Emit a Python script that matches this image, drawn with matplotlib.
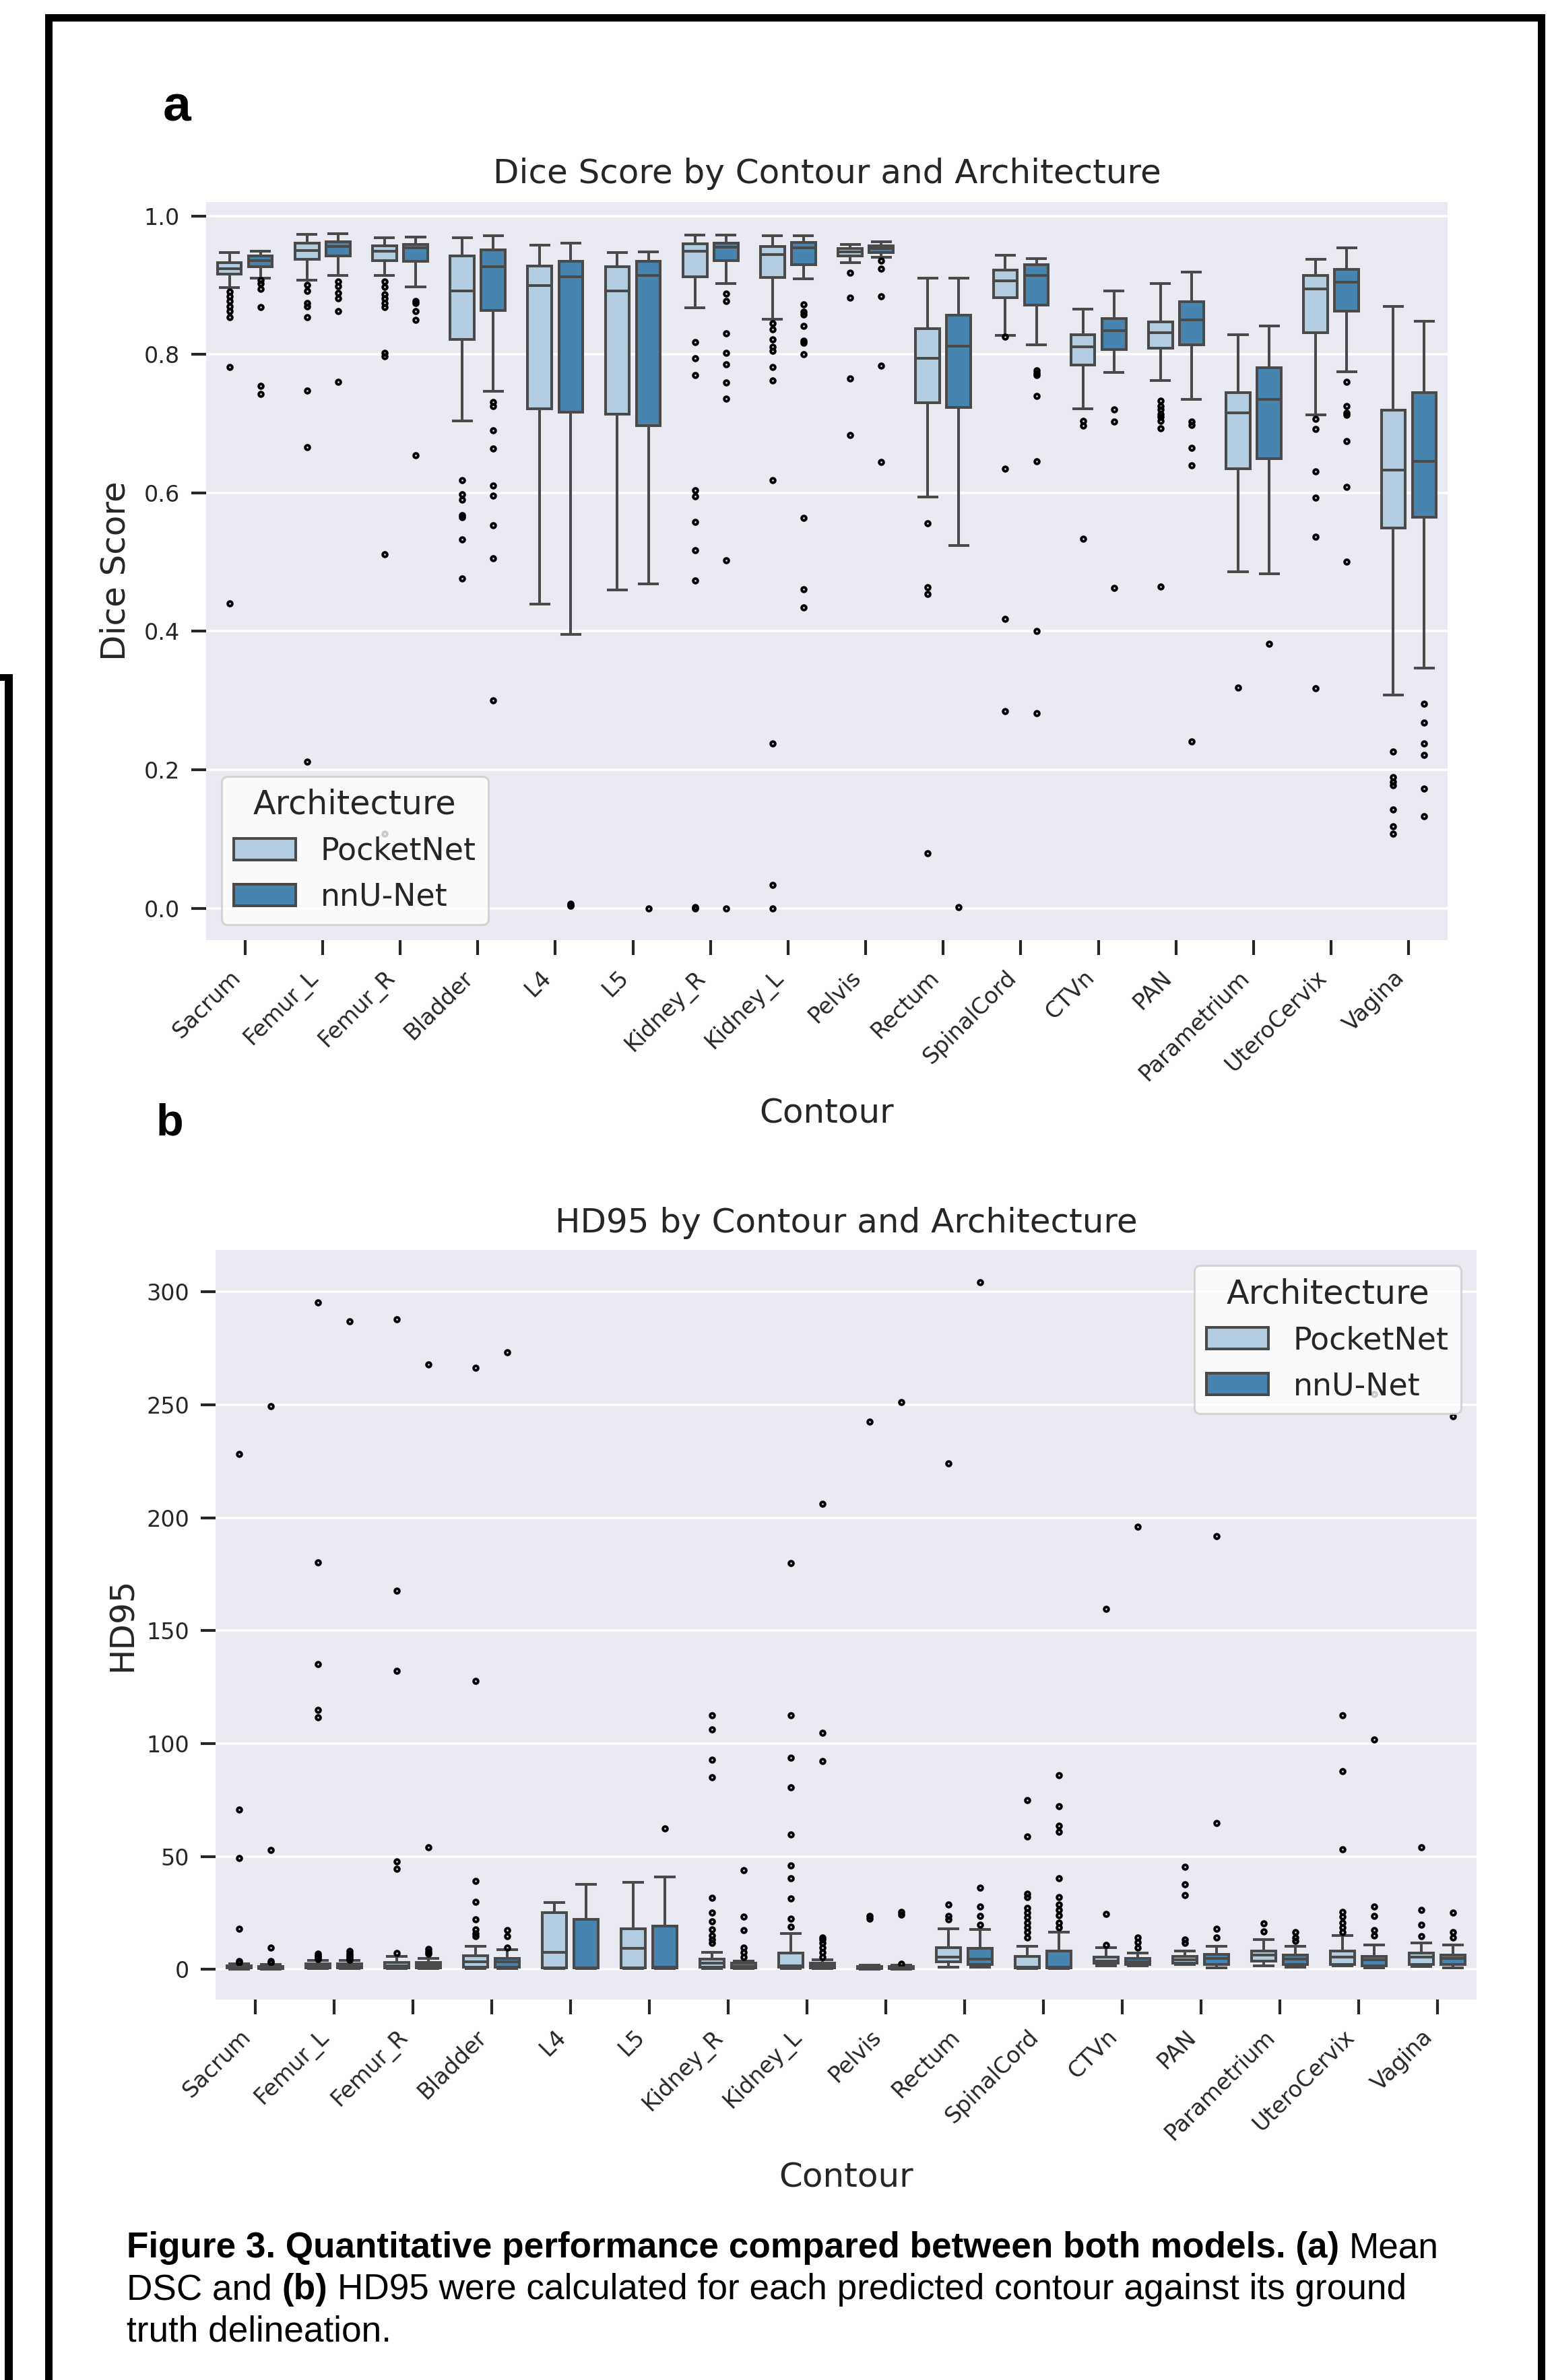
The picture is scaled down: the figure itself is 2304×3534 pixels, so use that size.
import numpy as np
import matplotlib
matplotlib.use("Agg")
import matplotlib.pyplot as plt
from matplotlib.patches import Patch, Rectangle

W, H = 2304, 3534

contours = ["Sacrum", "Femur_L", "Femur_R", "Bladder", "L4", "L5", "Kidney_R", "Kidney_L",
            "Pelvis", "Rectum", "SpinalCord", "CTVn", "PAN", "Parametrium", "UteroCervix", "Vagina"]
architectures = ["PocketNet", "nnU-Net"]

# ── Dice score, PocketNet ────────────────────────────────────────────────────
dice_pn_lo = [0.896, 0.907, 0.914, 0.704, 0.439, 0.460, 0.867, 0.851, 0.932, 0.594, 0.827, 0.721, 0.762, 0.486, 0.713, 0.308]
dice_pn_q1 = [0.916, 0.937, 0.935, 0.822, 0.721, 0.714, 0.912, 0.911, 0.942, 0.730, 0.882, 0.785, 0.809, 0.635, 0.831, 0.549]
dice_pn_med = [0.924, 0.950, 0.949, 0.892, 0.899, 0.892, 0.949, 0.944, 0.948, 0.794, 0.906, 0.811, 0.831, 0.716, 0.895, 0.633]
dice_pn_q3 = [0.932, 0.961, 0.957, 0.942, 0.928, 0.927, 0.960, 0.956, 0.953, 0.837, 0.922, 0.828, 0.847, 0.745, 0.914, 0.719]
dice_pn_hi = [0.947, 0.973, 0.968, 0.968, 0.958, 0.947, 0.972, 0.971, 0.959, 0.910, 0.943, 0.865, 0.902, 0.828, 0.937, 0.869]
dice_pn_fliers = [
    [0.891, 0.884, 0.877, 0.869, 0.862, 0.854, 0.782, 0.440],
    [0.900, 0.892, 0.874, 0.869, 0.854, 0.748, 0.666, 0.212],
    [0.905, 0.897, 0.887, 0.881, 0.874, 0.868, 0.802, 0.797, 0.511, 0.108],
    [0.618, 0.598, 0.590, 0.568, 0.565, 0.533, 0.476],
    [],
    [],
    [0.818, 0.794, 0.770, 0.604, 0.595, 0.558, 0.517, 0.473, 0.002, 0.0],
    [0.845, 0.836, 0.822, 0.811, 0.805, 0.782, 0.762, 0.618, 0.238, 0.034, 0.0],
    [0.918, 0.882, 0.765, 0.683],
    [0.556, 0.464, 0.454, 0.079],
    [0.825, 0.635, 0.418, 0.285],
    [0.704, 0.697, 0.534],
    [0.733, 0.725, 0.720, 0.714, 0.710, 0.704, 0.693, 0.465],
    [0.319],
    [0.707, 0.692, 0.631, 0.593, 0.537, 0.318],
    [0.226, 0.189, 0.183, 0.178, 0.143, 0.118, 0.108],
]

# ── Dice score, nnU-Net ──────────────────────────────────────────────────────
dice_nn_lo = [0.910, 0.914, 0.897, 0.747, 0.396, 0.469, 0.902, 0.909, 0.940, 0.524, 0.814, 0.774, 0.735, 0.483, 0.775, 0.347]
dice_nn_q1 = [0.927, 0.942, 0.934, 0.863, 0.717, 0.697, 0.935, 0.930, 0.947, 0.723, 0.871, 0.807, 0.814, 0.649, 0.862, 0.565]
dice_nn_med = [0.935, 0.956, 0.954, 0.927, 0.912, 0.914, 0.955, 0.954, 0.953, 0.812, 0.914, 0.834, 0.850, 0.735, 0.904, 0.646]
dice_nn_q3 = [0.942, 0.963, 0.959, 0.951, 0.934, 0.934, 0.961, 0.962, 0.957, 0.857, 0.930, 0.852, 0.876, 0.781, 0.923, 0.745]
dice_nn_hi = [0.949, 0.974, 0.969, 0.971, 0.961, 0.948, 0.972, 0.971, 0.963, 0.910, 0.938, 0.892, 0.919, 0.841, 0.954, 0.848]
dice_nn_fliers = [
    [0.907, 0.902, 0.895, 0.868, 0.754, 0.743],
    [0.905, 0.898, 0.889, 0.881, 0.862, 0.760],
    [0.877, 0.874, 0.862, 0.850, 0.654],
    [0.731, 0.725, 0.690, 0.664, 0.611, 0.596, 0.553, 0.505, 0.300],
    [0.007, 0.005, 0.004],
    [0.0],
    [0.888, 0.877, 0.830, 0.802, 0.786, 0.759, 0.736, 0.503, 0.0],
    [0.872, 0.861, 0.858, 0.841, 0.820, 0.817, 0.800, 0.564, 0.461, 0.434],
    [0.935, 0.924, 0.884, 0.784, 0.645],
    [0.002],
    [0.777, 0.773, 0.770, 0.740, 0.646, 0.400, 0.282],
    [0.720, 0.703, 0.463],
    [0.703, 0.698, 0.665, 0.640, 0.241],
    [0.382],
    [0.760, 0.725, 0.716, 0.713, 0.675, 0.609, 0.501],
    [0.295, 0.268, 0.238, 0.221, 0.173, 0.133],
]

# ── HD95, PocketNet ──────────────────────────────────────────────────────────
hd_pn_lo = [0.0, 0.3, 0.3, 0.5, 0.3, 0.3, 0.3, 0.3, 0.2, 1.1, 0.3, 1.5, 2.2, 1.5, 1.5, 1.2]
hd_pn_q1 = [0.7, 0.8, 0.8, 0.9, 0.7, 0.7, 1.1, 1.1, 0.5, 3.3, 0.7, 2.8, 2.8, 3.7, 2.2, 2.2]
hd_pn_med = [1.1, 1.5, 1.6, 3.3, 7.7, 9.4, 2.8, 1.6, 0.8, 5.5, 1.0, 3.7, 4.4, 6.3, 5.5, 5.5]
hd_pn_q3 = [1.5, 2.5, 3.0, 6.1, 25.1, 18.1, 4.6, 7.2, 1.2, 9.8, 5.9, 5.5, 5.9, 8.1, 8.1, 7.2]
hd_pn_hi = [2.6, 4.0, 5.9, 10.3, 29.7, 38.7, 7.7, 16.0, 1.8, 18.1, 10.3, 9.8, 8.1, 13.1, 14.9, 11.6]
hd_pn_fliers = [
    [3.2, 3.8, 18.1, 49.2, 70.8, 228.2],
    [4.6, 5.4, 6.0, 7.0, 111.7, 115.0, 135.3, 180.1, 295.1],
    [7.2, 44.6, 47.9, 132.3, 167.7, 287.9],
    [14.6, 16.0, 17.7, 22.1, 30.0, 39.1, 127.7, 266.3],
    [],
    [],
    [11.6, 13.3, 15.1, 17.7, 21.2, 25.1, 31.7, 85.0, 92.7, 106.3, 112.6],
    [19.0, 22.5, 31.3, 40.4, 45.9, 59.7, 80.7, 93.6, 112.6, 180.0],
    [22.5, 23.8, 242.6],
    [22.1, 23.8, 28.6, 223.9],
    [14.2, 16.4, 18.6, 20.8, 23.0, 25.1, 27.3, 32.1, 33.4, 58.8, 75.0],
    [10.7, 24.7, 159.6],
    [11.6, 13.1, 32.8, 37.6, 45.3],
    [16.8, 20.3],
    [16.4, 18.6, 20.8, 23.4, 25.6, 53.1, 87.7, 112.6],
    [14.6, 19.9, 26.2, 54.0],
]

# ── HD95, nnU-Net ────────────────────────────────────────────────────────────
hd_nn_lo = [0.0, 0.3, 0.3, 0.5, 0.3, 0.3, 0.3, 0.3, 0.2, 1.1, 0.3, 1.5, 0.7, 1.0, 0.8, 0.8]
hd_nn_q1 = [0.5, 0.8, 0.8, 0.9, 0.7, 0.7, 0.7, 0.7, 0.5, 2.2, 0.7, 2.2, 2.2, 2.2, 1.7, 2.2]
hd_nn_med = [0.9, 1.4, 1.8, 3.3, 0.8, 0.9, 1.3, 1.5, 0.8, 4.6, 1.0, 3.3, 5.0, 4.6, 4.4, 5.0]
hd_nn_q3 = [1.3, 2.6, 3.2, 4.8, 22.1, 19.2, 2.8, 2.8, 1.2, 9.4, 8.1, 5.0, 6.8, 6.3, 5.9, 6.3]
hd_nn_hi = [2.2, 4.0, 5.0, 8.8, 37.8, 41.1, 3.7, 4.4, 1.8, 17.7, 16.4, 7.2, 10.3, 10.3, 10.9, 10.7]
hd_nn_fliers = [
    [3.0, 3.6, 9.8, 52.9, 249.2],
    [4.4, 5.2, 6.0, 7.0, 8.1, 286.8],
    [7.0, 8.0, 9.0, 54.0, 267.8],
    [9.8, 14.6, 17.3, 273.3],
    [],
    [62.3],
    [5.5, 7.7, 9.8, 17.3, 23.4, 43.9],
    [5.5, 7.7, 9.8, 11.6, 13.3, 14.2, 92.3, 104.7, 206.0],
    [2.4, 24.3, 25.6, 251.0],
    [19.9, 23.8, 27.8, 36.1, 304.3],
    [18.6, 20.8, 24.0, 26.2, 28.6, 32.1, 40.4, 61.0, 63.6, 72.4, 86.1],
    [9.8, 12.0, 14.2, 196.1],
    [14.2, 18.1, 64.9, 191.7],
    [12.5, 14.2, 16.4],
    [15.1, 17.3, 23.8, 27.8, 101.7, 254.7],
    [14.2, 16.4, 25.1, 244.9],
]

dice_ticks = [0.0, 0.2, 0.4, 0.6, 0.8, 1.0]
hd_ticks = [0, 50, 100, 150, 200, 250, 300]

# ── style ────────────────────────────────────────────────────────────────────
BG = "#eaeaf2"
INK = "#262626"
GRAY = "#4a4a4a"
COLORS = ["#b3cee0", "#4884af"]
OFFS = [-0.2, 0.2]
LABEL_FS = 36


def stats(lo, q1, med, q3, hi, fl):
    return [dict(whislo=a, q1=b, med=c, q3=d, whishi=e, fliers=f)
            for a, b, c, d, e, f in zip(lo, q1, med, q3, hi, fl)]


def panel(ax, series, ylim, yticks, fmt, title, ylabel, title_pad, ylab_x, xlab_y, legend_loc):
    ax.set_facecolor(BG)
    for s in ax.spines.values():
        s.set_visible(False)
    ax.grid(axis="y", color="white", lw=2.6)
    ax.set_axisbelow(True)
    x = np.arange(len(contours))
    line = dict(color=GRAY, linewidth=2.9)
    for k, st in enumerate(series):
        ax.bxp(st, positions=x + OFFS[k], widths=0.31, capwidths=0.235,
               patch_artist=True, manage_ticks=False,
               boxprops=dict(facecolor=COLORS[k], edgecolor=GRAY, linewidth=2.9),
               medianprops=line, whiskerprops=line, capprops=line,
               flierprops=dict(marker="o", markersize=4.8, markerfacecolor="none",
                               markeredgecolor="black", markeredgewidth=2.8))
    ax.set_xlim(-0.5, len(contours) - 0.5)
    ax.set_ylim(*ylim)
    ax.set_xticks(x)
    ax.set_xticklabels(contours, rotation=45, ha="right")
    ax.set_yticks(yticks)
    ax.set_yticklabels([fmt.format(v) for v in yticks])
    ax.tick_params(length=16, width=3, color=INK, labelsize=24, labelcolor=INK, pad=12)
    ax.set_title(title, fontsize=LABEL_FS, color=INK, pad=title_pad)
    ax.set_ylabel(ylabel, fontsize=LABEL_FS, color=INK)
    ax.set_xlabel("Contour", fontsize=LABEL_FS, color=INK)
    ax.yaxis.set_label_coords(ylab_x, 0.5)
    ax.xaxis.set_label_coords(0.5, xlab_y)
    handles = [Patch(facecolor=c, edgecolor=GRAY, linewidth=2.9, label=n)
               for c, n in zip(COLORS, architectures)]
    leg = ax.legend(handles=handles, title="Architecture", loc=legend_loc,
                    fontsize=33, title_fontsize=35.5, framealpha=0.8,
                    edgecolor="0.8", labelcolor=INK)
    leg.get_title().set_color(INK)
    leg.get_frame().set_linewidth(2.2)


fig = plt.figure(figsize=(W / 100, H / 100), dpi=100)
fig.patch.set_facecolor("white")

# page frame (scan border)
canvas = fig.add_axes([0, 0, 1, 1], zorder=-5)
canvas.set_xlim(0, W)
canvas.set_ylim(H, 0)
canvas.set_axis_off()
for (x0, y0, w, h) in [(67, 21, 11, H), (67, 21, 2227, 11), (2283, 21, 11, H),
                       (7, 1001, 12, H), (0, 1001, 19, 10)]:
    canvas.add_patch(Rectangle((x0, y0), w, h, facecolor="black", edgecolor="none"))

ax1 = fig.add_axes([306 / W, 1 - 1396 / H, 1843 / W, 1096 / H])
panel(ax1,
      [stats(dice_pn_lo, dice_pn_q1, dice_pn_med, dice_pn_q3, dice_pn_hi, dice_pn_fliers),
       stats(dice_nn_lo, dice_nn_q1, dice_nn_med, dice_nn_q3, dice_nn_hi, dice_nn_fliers)],
      (-0.046, 1.020), dice_ticks, "{:.1f}",
      "Dice Score by Contour and Architecture", "Dice Score",
      20, -0.0602, -0.2135, "lower left")

ax2 = fig.add_axes([320 / W, 1 - 2969 / H, 1872 / W, 1113 / H])
panel(ax2,
      [stats(hd_pn_lo, hd_pn_q1, hd_pn_med, hd_pn_q3, hd_pn_hi, hd_pn_fliers),
       stats(hd_nn_lo, hd_nn_q1, hd_nn_med, hd_nn_q3, hd_nn_hi, hd_nn_fliers)],
      (-13.3, 318.5), hd_ticks, "{:d}",
      "HD95 by Contour and Architecture", "HD95",
      19, -0.0611, -0.2165, "upper right")

# panel letters
fig.text(242 / W, 1 - 180 / H, "a", fontsize=54, fontweight="bold",
         family="Liberation Sans", va="baseline", ha="left")
fig.text(232 / W, 1 - 1685 / H, "b", fontsize=48, fontweight="bold",
         family="Liberation Sans", va="baseline", ha="left")

# caption with bold runs
caption = [
    (3352, [("Figure 3. Quantitative performance compared between both models. (a)", "bold"),
            (" Mean", "normal")]),
    (3414, [("DSC and ", "normal"), ("(b)", "bold"),
            (" HD95 were calculated for each predicted contour against its ground", "normal")]),
    (3476, [("truth delineation.", "normal")]),
]
CAP_FS = 38.25
renderer = fig.canvas.get_renderer()


def text_width(s, weight):
    t = fig.text(0, 0, s, fontsize=CAP_FS, fontweight=weight, family="Liberation Sans")
    w = t.get_window_extent(renderer).width
    t.remove()
    return w


space_w = {wt: text_width("x x", wt) - text_width("xx", wt) for wt in ("bold", "normal")}

for y_px, runs in caption:
    x = 188.0
    for s, wt in runs:
        lead = len(s) - len(s.lstrip(" "))
        trail = len(s) - len(s.rstrip(" "))
        x += lead * space_w[wt]
        t = fig.text(x / W, 1 - y_px / H, s.strip(), fontsize=CAP_FS, fontweight=wt,
                     family="Liberation Sans", va="baseline", ha="left", color="black")
        x = t.get_window_extent(renderer).x1 + trail * space_w[wt]

fig.savefig("out.png", dpi=100, facecolor="white")
